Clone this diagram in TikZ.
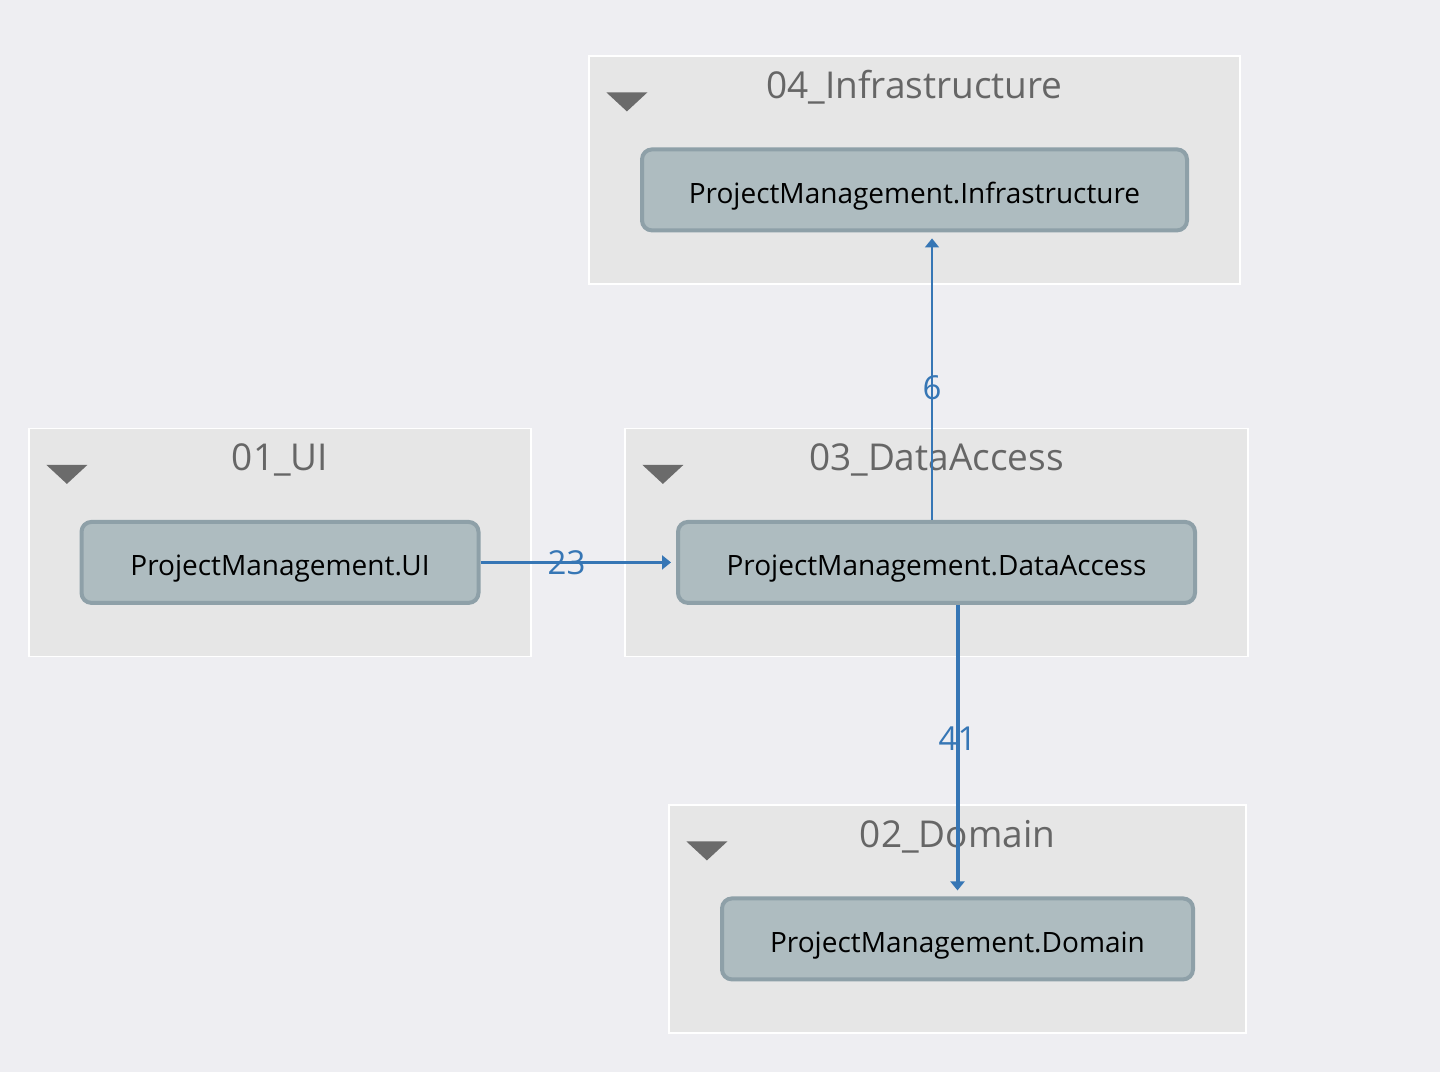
\documentclass[tikz,border=0pt]{standalone}
\usepackage{fontspec}
\setmainfont{Open Sans}
\usetikzlibrary{calc,positioning,arrows.meta}

\definecolor{canvas}{HTML}{EEEEF2}
\definecolor{groupfill}{HTML}{E6E6E6}
\definecolor{projfill}{HTML}{AEBCC0}
\definecolor{projline}{HTML}{8EA0A8}
\definecolor{titlegray}{HTML}{666666}
\definecolor{caretgray}{HTML}{6B6B6B}
\definecolor{depblue}{HTML}{3676B5}

\tikzset{
	group/.style={draw=white,fill=groupfill,line width=0.6pt,minimum height=114pt,inner sep=0pt},
	grouptitle/.style={text=titlegray,font=\fontsize{18.5}{22}\selectfont,inner sep=0pt},
	project/.style={draw=projline,fill=projfill,line width=2pt,rounded corners=5pt,minimum height=40.5pt,inner sep=0pt,text height=13.5pt,text depth=0pt,font=\fontsize{14}{17}\selectfont},
	caret/.style={fill=caretgray},
	dep/.style={draw=depblue,-{Triangle[length=4.5pt,width=7pt]},shorten >=2.5pt},
	count/.style={text=depblue,font=\fontsize{16.5}{18}\selectfont,inner sep=0pt}
}

\begin{document}
\begin{tikzpicture}[x=0.5pt,y=-0.5pt]
		\useasboundingbox[fill=canvas] (0,0) rectangle (1440,1072);
		% layer groups
		\node (g4) [group,minimum width=325.5pt] at (914.5,170) {};
		\node (g1) [group,minimum width=251pt] at (280,542.5) {};
		\node (g3) [group,minimum width=311.5pt] at (936.5,542.5) {};
		\node (g2) [group,minimum width=288.5pt] at (957.5,919) {};
		\node (t4) [grouptitle] at ($(g4.north)+(0,32)$) {04\_Infrastructure};
		\node (t1) [grouptitle] at ($(g1.north)+(0,32)$) {01\_UI};
		\node (t3) [grouptitle] at ($(g3.north)+(0,32)$) {03\_DataAccess};
		\node (t2) [grouptitle] at ($(g2.north)+(0,32)$) {02\_Domain};
		\foreach \g in {g4,g1,g3,g2}
			\fill[caret] ($(\g.north west)+(18,37)$) -- ++(41,0) -- ++(-20.5,19) -- cycle;
		% projects
		\node (inf) [project,minimum width=272.5pt] at ($(g4.north)+(0,134.5)$) {ProjectManagement.Infrastructure};
		\node (ui) [project,minimum width=198.5pt] at ($(g1.north)+(0,134.5)$) {ProjectManagement.UI};
		\node (da) [project,minimum width=258.5pt] at ($(g3.north)+(0,134.5)$) {ProjectManagement.DataAccess};
		\node (dom) [project,minimum width=235.5pt] at ($(g2.north)+(0,134.5)$) {ProjectManagement.Domain};
		% dependencies
		\draw[dep,line width=1.7pt] (ui.east) -- (da.west) node [count,pos=0.44] {23};
		\coordinate (s6) at ($(da.north)+(-4.5,0)$);
		\draw[dep,line width=0.8pt,shorten >=3pt] (s6) -- (s6 |- inf.south) node [count,pos=0.46] {6};
		\coordinate (s41) at (da.south -| dom.north);
		\draw[dep,line width=2pt,shorten >=3pt] (s41) -- (dom.north) node [count,pos=0.46] {41};
\end{tikzpicture}
\end{document}
